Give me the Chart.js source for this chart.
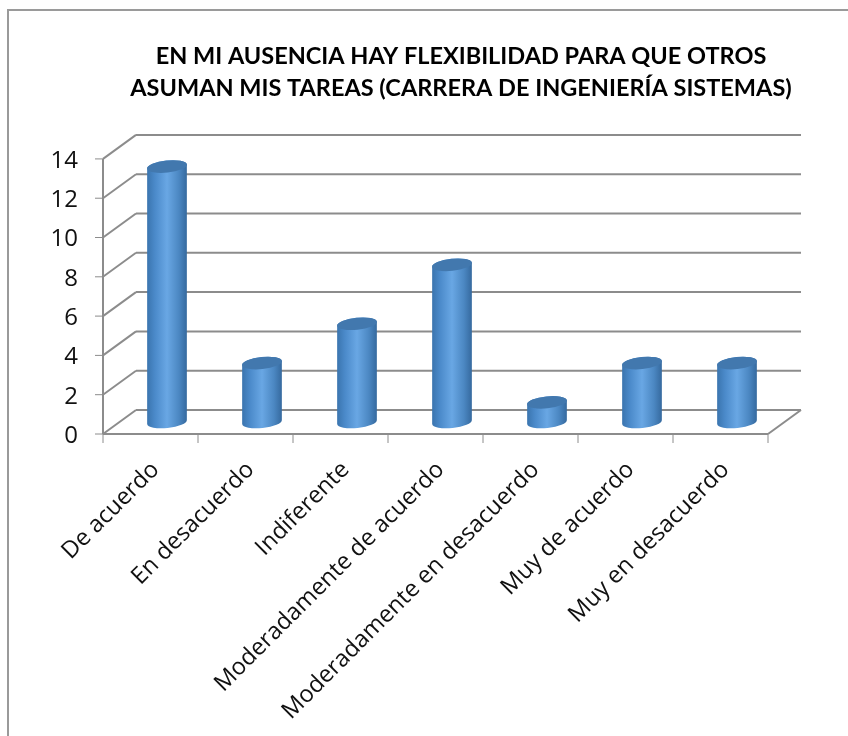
<!DOCTYPE html>
<html lang="es">
<head>
    <meta charset="UTF-8">
    <title>Flexibilidad</title>
    <script src="https://cdn.jsdelivr.net/npm/chart.js"></script>
    <style>
        html, body { margin: 0; padding: 0; background: #fff; }
        #caja { position: relative; width: 848px; height: 736px; overflow: hidden; }
        #marco { position: absolute; left: 7px; top: 9px; width: 900px; height: 900px; border: 2px solid #9a9a9a; box-sizing: border-box; }
        canvas { position: absolute; left: 0; top: 0; }
    </style>
</head>
<body>
    <div id="caja">
        <div id="marco"></div>
        <canvas id="grafico" width="848" height="736"></canvas>
    </div>

    <script>
        const tituloLineas = ['EN MI AUSENCIA HAY FLEXIBILIDAD PARA QUE OTROS', 'ASUMAN MIS TAREAS (CARRERA DE INGENIERÍA SISTEMAS)'];
        const categorias = ['De acuerdo', 'En desacuerdo', 'Indiferente', 'Moderadamente de acuerdo', 'Moderadamente en desacuerdo', 'Muy de acuerdo', 'Muy en desacuerdo'];
        const valores = [13, 3, 5, 8, 1, 3, 3];
        const yMax = 14;
        const yPaso = 2;

        // profundidad de la caja 3D
        const fondoX = 33;
        const fondoY = -24;
        const colorEje = '#8c8c8c';

        function linea(ctx, x1, y1, x2, y2) {
            ctx.beginPath();
            ctx.moveTo(x1, y1);
            ctx.lineTo(x2, y2);
            ctx.stroke();
        }

        // paredes, rejilla y marcas
        const caja3d = {
            id: 'caja3d',
            beforeDatasetsDraw(chart) {
                const ctx = chart.ctx;
                const a = chart.chartArea;
                const sy = chart.scales.y;
                const sx = chart.scales.x;
                ctx.save();
                ctx.strokeStyle = colorEje;
                ctx.lineWidth = 2;
                linea(ctx, a.left, a.top, a.left, a.bottom);
                linea(ctx, a.left, a.bottom, a.right, a.bottom);
                linea(ctx, a.right, a.bottom, a.right + fondoX, a.bottom + fondoY);
                sy.ticks.forEach(function(t) {
                    const y = sy.getPixelForValue(t.value);
                    linea(ctx, a.left, y, a.left + fondoX, y + fondoY);
                    linea(ctx, a.left + fondoX, y + fondoY, a.right + fondoX, y + fondoY);
                });
                ctx.lineWidth = 1;
                sy.ticks.forEach(function(t) {
                    const y = sy.getPixelForValue(t.value);
                    linea(ctx, a.left - 8, y, a.left, y);
                });
                const paso = (a.right - a.left) / categorias.length;
                categorias.forEach(function(c, i) {
                    const x = sx.getPixelForValue(i) - paso / 2;
                    linea(ctx, x, a.bottom, x, a.bottom + 9);
                });
                linea(ctx, a.right, a.bottom, a.right, a.bottom + 9);
                ctx.restore();
            },
            // cilindros a partir de las barras del grafico
            afterDatasetsDraw(chart) {
                const ctx = chart.ctx;
                const giro = -6 * Math.PI / 180;
                chart.getDatasetMeta(0).data.forEach(function(barra) {
                    const cx = barra.x + fondoX / 2;
                    const yArriba = barra.y + fondoY / 2;
                    const yAbajo = barra.base + fondoY / 2;
                    const rx = barra.width / 2;
                    const ry = 6;

                    const g = ctx.createLinearGradient(cx - rx, 0, cx + rx, 0);
                    g.addColorStop(0, '#3a74ae');
                    g.addColorStop(0.2, '#4b8aca');
                    g.addColorStop(0.5, '#69a7e4');
                    g.addColorStop(0.8, '#4b87c2');
                    g.addColorStop(1, '#35699e');

                    ctx.beginPath();
                    ctx.ellipse(cx, yAbajo, rx, ry, giro, 0, Math.PI);
                    ctx.ellipse(cx, yArriba, rx, ry, giro, Math.PI, Math.PI * 2);
                    ctx.closePath();
                    ctx.fillStyle = g;
                    ctx.fill();

                    ctx.beginPath();
                    ctx.ellipse(cx, yArriba, rx, ry, giro, 0, Math.PI * 2);
                    ctx.fillStyle = '#4278ae';
                    ctx.fill();
                });
            }
        };

        new Chart(document.getElementById('grafico').getContext('2d'), {
            type: 'bar',
            data: {
                labels: categorias,
                datasets: [{
                    data: valores,
                    backgroundColor: 'rgba(0,0,0,0)',
                    categoryPercentage: 1,
                    barPercentage: 0.42
                }]
            },
            options: {
                responsive: false,
                animation: false,
                events: [],
                // el relleno negativo centra el titulo en x=461 y deja sitio a las etiquetas del eje y
                layout: { padding: { left: 40, top: 40, right: -34, bottom: 0 } },
                plugins: {
                    legend: { display: false },
                    tooltip: { enabled: false },
                    title: {
                        display: true,
                        text: tituloLineas,
                        color: '#000',
                        font: { family: 'Lato', size: 23.5, weight: 'bold', lineHeight: 1.36 },
                        padding: { top: 0, bottom: 55 }
                    }
                },
                scales: {
                    x: {
                        grid: { display: false },
                        border: { display: false },
                        afterFit(s) { s.height = 302; },
                        ticks: {
                            color: '#111',
                            font: { family: 'Open Sans', size: 23.5 },
                            minRotation: 45,
                            maxRotation: 45,
                            autoSkip: false,
                            padding: 14,
                            labelOffset: 5
                        }
                    },
                    y: {
                        min: 0,
                        max: yMax,
                        grid: { display: false },
                        border: { display: false },
                        afterFit(s) { s.width = 63; },
                        ticks: {
                            stepSize: yPaso,
                            color: '#111',
                            font: { family: 'Open Sans', size: 24 },
                            padding: 17,
                            labelOffset: 2
                        }
                    },
                    derecha: {
                        position: 'right',
                        display: true,
                        grid: { display: false },
                        border: { display: false },
                        ticks: { display: false },
                        afterFit(s) { s.width = 114; }
                    }
                }
            },
            plugins: [caja3d]
        });
    </script>
</body>
</html>
